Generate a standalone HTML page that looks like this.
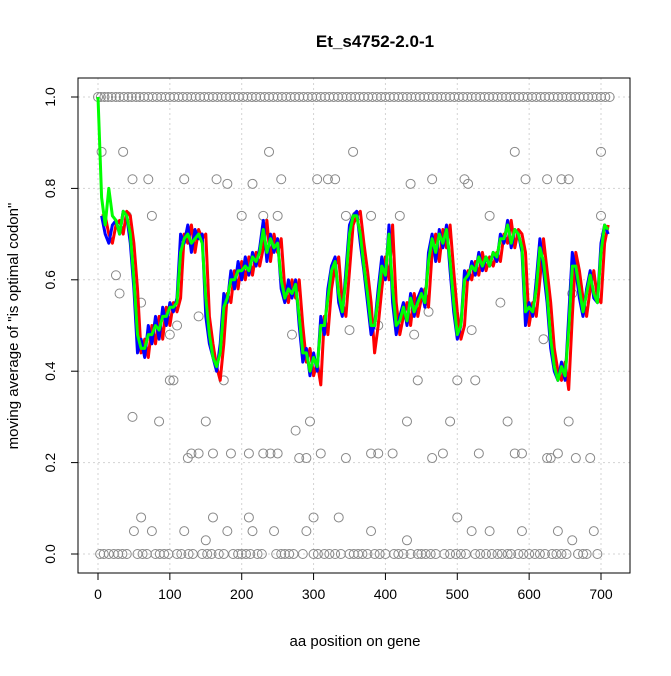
<!DOCTYPE html>
<html><head><meta charset="utf-8"><style>
body{margin:0;background:#fff;font-family:"Liberation Sans",sans-serif}
</style></head><body>
<svg id="chart" width="671" height="671" xmlns="http://www.w3.org/2000/svg">
<text x="375" y="47" text-anchor="middle" font-size="17" font-weight="bold">Et_s4752-2.0-1</text>
<text x="355" y="646" text-anchor="middle" font-size="15">aa position on gene</text>
<text transform="translate(18,326) rotate(-90)" text-anchor="middle" font-size="15">moving average of "is optimal codon"</text>
<g id="grid"></g>
<g id="pts"></g>
<g id="lines"></g>
<rect x="78" y="78" width="552" height="495" fill="none" stroke="#000"/>
<g id="axes"></g>
</svg>
<script>
const xTicks=[0,100,200,300,400,500,600,700];
const yTicks=[0,0.2,0.4,0.6,0.8,1.0];
const yTickLabels=["0.0","0.2","0.4","0.6","0.8","1.0"];
const blueY=[0.74,0.70,0.68,0.72,0.73,0.70,0.75,0.74,0.68,0.58,0.44,0.47,0.43,0.50,0.46,0.52,0.47,0.54,0.50,0.55,0.53,0.56,0.70,0.68,0.72,0.66,0.71,0.69,0.70,0.52,0.46,0.43,0.40,0.46,0.57,0.55,0.62,0.58,0.64,0.60,0.65,0.61,0.66,0.63,0.67,0.73,0.64,0.70,0.66,0.69,0.58,0.55,0.60,0.56,0.60,0.50,0.42,0.45,0.39,0.44,0.40,0.52,0.48,0.58,0.63,0.65,0.55,0.52,0.62,0.72,0.74,0.75,0.68,0.62,0.55,0.48,0.50,0.58,0.65,0.60,0.72,0.55,0.48,0.52,0.55,0.50,0.57,0.52,0.56,0.58,0.54,0.66,0.70,0.64,0.71,0.67,0.72,0.62,0.53,0.47,0.50,0.62,0.60,0.64,0.61,0.66,0.62,0.65,0.63,0.66,0.64,0.70,0.68,0.73,0.67,0.71,0.70,0.66,0.50,0.55,0.52,0.60,0.69,0.62,0.55,0.45,0.40,0.38,0.42,0.38,0.52,0.66,0.62,0.56,0.52,0.58,0.62,0.56,0.55,0.68,0.72,0.70];
const redY=[0.74,0.74,0.70,0.68,0.72,0.73,0.70,0.75,0.74,0.68,0.58,0.44,0.47,0.43,0.50,0.46,0.52,0.47,0.54,0.50,0.55,0.53,0.56,0.70,0.68,0.72,0.66,0.71,0.69,0.70,0.52,0.46,0.41,0.38,0.46,0.57,0.55,0.62,0.58,0.64,0.60,0.65,0.61,0.66,0.63,0.67,0.73,0.64,0.70,0.66,0.69,0.58,0.55,0.60,0.56,0.60,0.50,0.42,0.45,0.39,0.42,0.37,0.52,0.48,0.58,0.63,0.65,0.55,0.52,0.62,0.72,0.74,0.75,0.68,0.62,0.55,0.44,0.50,0.58,0.65,0.60,0.72,0.55,0.48,0.52,0.55,0.50,0.57,0.52,0.56,0.58,0.54,0.66,0.70,0.64,0.71,0.67,0.72,0.62,0.53,0.47,0.50,0.62,0.60,0.64,0.61,0.66,0.62,0.65,0.63,0.66,0.64,0.70,0.68,0.73,0.67,0.71,0.70,0.66,0.50,0.55,0.52,0.60,0.69,0.62,0.55,0.45,0.40,0.38,0.42,0.36,0.52,0.66,0.62,0.56,0.52,0.58,0.62,0.56,0.55,0.68,0.72];
const greenY=[1.0,0.78,0.72,0.80,0.74,0.73,0.70,0.75,0.74,0.70,0.60,0.48,0.45,0.45,0.48,0.48,0.50,0.49,0.52,0.52,0.54,0.54,0.55,0.66,0.69,0.70,0.68,0.69,0.70,0.68,0.56,0.48,0.43,0.41,0.44,0.54,0.56,0.60,0.60,0.62,0.62,0.63,0.62,0.65,0.64,0.66,0.71,0.66,0.69,0.67,0.68,0.60,0.56,0.58,0.57,0.59,0.52,0.44,0.44,0.40,0.43,0.41,0.50,0.50,0.56,0.62,0.64,0.57,0.53,0.60,0.70,0.74,0.74,0.70,0.63,0.57,0.50,0.50,0.56,0.63,0.61,0.70,0.58,0.50,0.51,0.54,0.51,0.56,0.53,0.55,0.57,0.55,0.64,0.69,0.66,0.70,0.68,0.71,0.64,0.55,0.48,0.50,0.60,0.61,0.63,0.62,0.65,0.63,0.65,0.63,0.66,0.65,0.69,0.69,0.72,0.68,0.71,0.70,0.67,0.53,0.54,0.53,0.58,0.67,0.64,0.57,0.47,0.41,0.38,0.41,0.39,0.49,0.63,0.63,0.58,0.53,0.57,0.61,0.57,0.55,0.66,0.72,0.71];
const lineStep=5;
const midX=[5,35,70,120,165,180,215,238,255,305,320,330,355,435,465,510,515,580,595,625,645,655,700,48,48,85,100,105,125,130,140,150,160,175,185,210,230,240,250,275,280,290,295,310,345,380,390,410,430,445,465,480,490,500,525,530,570,580,590,625,630,640,655,665,685,50,60,75,120,160,180,215,290,300,335,380,430,500,520,545,590,660,690,245,150,210,640,40,75,200,230,250,345,360,380,420,25,30,60,100,140,270,350,390,440,520,560,620,700,660,110,460,545];
const midY=[0.88,0.88,0.82,0.82,0.82,0.81,0.81,0.88,0.82,0.82,0.82,0.82,0.88,0.81,0.82,0.82,0.81,0.88,0.82,0.82,0.82,0.82,0.88,0.82,0.30,0.29,0.38,0.38,0.21,0.22,0.22,0.29,0.22,0.38,0.22,0.22,0.22,0.22,0.22,0.27,0.21,0.21,0.29,0.22,0.21,0.22,0.22,0.22,0.29,0.38,0.21,0.22,0.29,0.38,0.38,0.22,0.29,0.22,0.22,0.21,0.21,0.22,0.29,0.21,0.21,0.05,0.08,0.05,0.05,0.08,0.05,0.05,0.05,0.08,0.08,0.05,0.03,0.08,0.05,0.05,0.05,0.03,0.05,0.05,0.03,0.08,0.05,0.74,0.74,0.74,0.74,0.74,0.74,0.74,0.74,0.74,0.61,0.57,0.55,0.48,0.52,0.48,0.49,0.50,0.48,0.49,0.55,0.47,0.74,0.57,0.50,0.53,0.74];
const onesX=[0,4,9,14,19,25,30,36,42,47,53,58,64,70,76,82,88,94,100,106,112,118,124,130,136,142,148,154,160,166,172,178,184,190,196,202,208,214,220,226,232,238,244,250,256,262,268,274,280,286,292,298,304,310,316,322,328,334,340,346,352,358,364,370,376,382,388,394,400,406,412,418,424,430,436,442,448,454,460,466,472,478,484,490,496,502,508,514,520,526,532,538,544,550,556,562,568,574,580,586,592,598,604,610,616,622,628,634,640,646,652,658,664,670,676,682,688,694,700,706,712];
const zerosX=[3,8,15,22,28,34,40,55,62,68,80,86,92,98,110,116,126,132,145,152,158,168,175,188,195,200,206,212,222,228,248,255,260,266,272,285,300,306,315,322,330,338,350,356,362,368,375,385,392,400,412,418,425,435,445,450,456,463,470,482,490,498,505,512,525,532,540,548,556,562,570,575,585,592,600,608,615,622,632,638,645,652,668,675,680,695];
const X=v=>98+v*(503/700), Y=v=>554-v*457;
const ns="http://www.w3.org/2000/svg";
function mk(p,t,a){const e=document.createElementNS(ns,t);for(const k in a)e.setAttribute(k,a[k]);p.appendChild(e);return e;}
const grid=document.getElementById('grid'),axes=document.getElementById('axes');
xTicks.forEach(t=>{
 const g=mk(grid,'line',{x1:X(t),x2:X(t),y1:78,y2:573,stroke:'#d3d3d3','stroke-dasharray':'2,3'});
 
 
 mk(axes,'line',{x1:X(t),x2:X(t),y1:573,y2:580,stroke:'#000'});
 const l=mk(axes,'text',{x:X(t),y:599,'text-anchor':'middle','font-size':14});l.textContent=t;
 
 
});
yTicks.forEach((t,i)=>{
 const g=mk(grid,'line',{x1:78,x2:630,y1:Y(t),y2:Y(t),stroke:'#d3d3d3','stroke-dasharray':'2,3'});
 
 
 mk(axes,'line',{x1:71,x2:78,y1:Y(t),y2:Y(t),stroke:'#000'});
 const l=mk(axes,'text',{transform:`translate(55,${Y(t)}) rotate(-90)`,'text-anchor':'middle','font-size':14});l.textContent=yTickLabels[i];
 
 
});
const pts=document.getElementById('pts');
function pt(x,y){const c=mk(pts,'circle',{cx:X(x),cy:Y(y),r:4.5,fill:'none',stroke:'#888','stroke-width':1});
 
 }
onesX.forEach(x=>pt(x,1));
zerosX.forEach(x=>pt(x,0));
midX.forEach((x,i)=>pt(x,midY[i]));
const lines=document.getElementById('lines');
[[redY,'#ff0000','red-series',5],[blueY,'#0000ff','blue-series',5],[greenY,'#00ff00','green-series',0]].forEach(([ys,c,n,x0])=>{
 let d='';ys.forEach((v,i)=>{d+=(i?'L':'M')+X(x0+i*lineStep).toFixed(1)+','+Y(v).toFixed(1);});
 const p=mk(lines,'path',{d:d,fill:'none',stroke:c,'stroke-width':3,'stroke-linejoin':'round'});
 
 
});
</script>
</body></html>
